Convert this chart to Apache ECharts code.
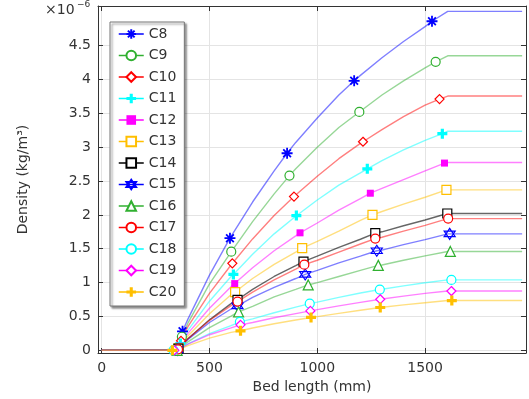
<!DOCTYPE html>
<html><head><meta charset="utf-8">
<script src="https://cdn.jsdelivr.net/npm/echarts@6/dist/echarts.min.js"></script>
<style>html,body{margin:0;padding:0;background:#fff}#c{width:529px;height:399px}</style>
</head><body><div id="c"></div>
<script>
// ---- data (density in units of 1e-6 kg/m^3) ----
const names = ['C8','C9','C10','C11','C12','C13','C14','C15','C16','C17','C18','C19','C20'];
const xGrid = [0, 348, 400, 500, 600, 700, 800, 900, 1000, 1100, 1200, 1300, 1400, 1500, 1605, 1950];
const C8  = [0,0,0.46,1.11,1.68,2.19,2.65,3.07,3.43,3.77,4.06,4.32,4.56,4.78,5.005,5.005];
const C9  = [0,0,0.40,0.98,1.45,1.90,2.31,2.68,3.00,3.29,3.54,3.77,3.98,4.17,4.35,4.35];
const C10 = [0,0,0.35,0.84,1.26,1.645,1.99,2.29,2.57,2.83,3.055,3.26,3.45,3.62,3.755,3.755];
const C11 = [0,0,0.295,0.725,1.09,1.42,1.72,1.98,2.22,2.44,2.62,2.80,2.96,3.10,3.235,3.235];
const C12 = [0,0,0.25,0.62,0.94,1.22,1.47,1.69,1.88,2.07,2.24,2.39,2.52,2.65,2.774,2.774];
const C13 = [0,0,0.21,0.54,0.82,1.06,1.27,1.45,1.61,1.76,1.92,2.05,2.16,2.26,2.37,2.37];
const C14 = [0,0,0.17,0.45,0.69,0.90,1.09,1.25,1.39,1.52,1.64,1.75,1.84,1.925,2.02,2.02];
const C15 = [0,0,0.16,0.41,0.61,0.78,0.93,1.06,1.18,1.29,1.39,1.48,1.56,1.635,1.72,1.72];
const C16 = [0,0,0.125,0.335,0.505,0.65,0.79,0.90,1.00,1.09,1.18,1.26,1.33,1.395,1.46,1.46];
const C17 = [0,0,0.17,0.44,0.66,0.86,1.04,1.20,1.33,1.45,1.57,1.67,1.76,1.845,1.945,1.945];
const C18 = [0,0,0.095,0.245,0.365,0.465,0.555,0.637,0.712,0.782,0.847,0.902,0.952,0.997,1.04,1.04];
const C19 = [0,0,0.09,0.23,0.33,0.41,0.48,0.542,0.60,0.656,0.708,0.757,0.80,0.84,0.875,0.875];
const C20 = [0,0,0.07,0.18,0.265,0.33,0.392,0.448,0.498,0.546,0.591,0.635,0.67,0.703,0.735,0.735];
const M8  = [[375,0.28],[595,1.656],[860,2.91],[1171,3.98],[1532,4.86]];
const M9  = [[372,0.20],[601,1.456],[871,2.58],[1195,3.52],[1549,4.26]];
const M10 = [[368,0.14],[606,1.284],[892,2.27],[1212,3.08],[1567,3.71]];
const M11 = [[365,0.10],[611,1.12],[903,1.99],[1232,2.68],[1580,3.20]];
const M12 = [[362,0.06],[617,0.985],[920,1.735],[1246,2.32],[1590,2.765]];
const M13 = [[357,0.03],[619,0.86],[930,1.51],[1256,2.00],[1599,2.37]];
const M14 = [[356,0.025],[630,0.746],[936,1.31],[1269,1.73],[1603,2.02]];
const M15 = [[351,0.005],[630,0.656],[944,1.12],[1276,1.47],[1614,1.72]];
const M16 = [[350,0],[635,0.567],[958,0.965],[1283,1.254],[1617,1.46]];
const M17 = [[354,0.015],[630,0.72],[940,1.265],[1269,1.65],[1607,1.945]];
const M18 = [[333,0],[641,0.42],[965,0.69],[1290,0.897],[1622,1.04]];
const M19 = [[337,0],[644,0.376],[968,0.582],[1292,0.754],[1622,0.875]];
const M20 = [[328,0],[644,0.288],[971,0.485],[1292,0.632],[1624,0.735]];
const xTicks = [0, 500, 1000, 1500];
const yTicks = [0, 0.5, 1, 1.5, 2, 2.5, 3, 3.5, 4, 4.5];

const values = [C8,C9,C10,C11,C12,C13,C14,C15,C16,C17,C18,C19,C20];
const marks = [M8,M9,M10,M11,M12,M13,M14,M15,M16,M17,M18,M19,M20];

// ---- styles ----
const BLUE='#0000ff', GREEN='#30b030', RED='#ff0000', CYAN='#00ffff', MAG='#ff00ff', ORG='#ffbf00', BLK='#000000';
const colors = [BLUE,GREEN,RED,CYAN,MAG,ORG,BLK,BLUE,GREEN,RED,CYAN,MAG,ORG];
const ASTER = 'path://M0,-10L0,10M-10,0L10,0M-7,-7L7,7M-7,7L7,-7';
const PLUS = 'path://M-1.6,-5H1.6V-1.6H5V1.6H1.6V5H-1.6V1.6H-5V-1.6H-1.6Z';
const HEX = 'path://M0,-10L8.66,5L-8.66,5ZM0,10L8.66,-5L-8.66,-5Z';
const DIAM = 'path://M0,-6L4.5,0L0,6L-4.5,0Z';
// [symbol, size, style]
const sym = [
  [ASTER, 11, 'stroke'], ['circle', 9, 'hollow'], [DIAM, 9, 'hollow'], [PLUS, 10, 'fill'],
  ['rect', 7, 'fill'], ['rect', 9, 'hollow'], ['rect', 9, 'hollow'], [HEX, 11, 'hollow'],
  ['triangle', 10, 'hollow'], ['circle', 9, 'hollow'], ['circle', 9, 'hollow'], [DIAM, 9, 'hollow'], [PLUS, 10, 'fill']
];
function hexToRgba(h, a){const n=parseInt(h.slice(1),16);return `rgba(${n>>16&255},${n>>8&255},${n&255},${a})`;}

function buildData(vals, mk){
  const pts = xGrid.map((x,i)=>({value:[x, vals[i]], symbol:'none'}));
  mk.forEach(m=>pts.push({value:[m[0], m[1]]}));
  pts.sort((a,b)=>a.value[0]-b.value[0]);
  return pts;
}

const FONT = 'DejaVu Sans';
const series = names.map((n,i)=>{
  const c = colors[i], s = sym[i];
  let itemStyle;
  if (s[2]==='stroke') itemStyle = {color:c, borderColor:c, borderWidth:1.8};
  else if (s[2]==='hollow') itemStyle = {color:'#ffffff', borderColor:c, borderWidth:1.2};
  else itemStyle = {color:c, borderWidth:0};
  return {
    name:n, type:'line', data: buildData(values[i], marks[i]),
    symbol:s[0], symbolSize:s[1], showSymbol:true, showAllSymbol:true,
    itemStyle, lineStyle:{color:hexToRgba(c, c===BLK?0.6:0.5), width:1.4},
    emphasis:{disabled:true}, animation:false, z: 2
  };
});

const fmt = v => String(v);
const axisCommon = {
  type:'value', axisLine:{show:true, onZero:false, lineStyle:{color:'#333', width:1}},
  axisTick:{show:true, inside:true, length:5, lineStyle:{color:'#333'}},
};
const chart = echarts.init(document.getElementById('c'), null, {renderer:'canvas'});
chart.setOption({
  animation:false,
  backgroundColor:'#ffffff',
  textStyle:{fontFamily:FONT},
  grid:{left:98, right:3, top:6, bottom:45},
  xAxis:[
    Object.assign({}, axisCommon, {position:'bottom', min:-17, max:1968,
      axisTick:Object.assign({}, axisCommon.axisTick, {customValues:xTicks}),
      axisLabel:{customValues:xTicks, formatter:fmt, fontSize:14, color:'#333', margin:8, fontFamily:FONT},
      splitLine:{show:true, lineStyle:{color:'#e4e4e4', width:1}},
      name:'Bed length (mm)', nameLocation:'middle', nameGap:27,
      nameTextStyle:{fontSize:14, color:'#333', fontFamily:FONT}}),
    Object.assign({}, axisCommon, {position:'top', min:-17, max:1968,
      axisTick:Object.assign({}, axisCommon.axisTick, {customValues:xTicks}),
      axisLabel:{show:false}, splitLine:{show:false}})
  ],
  yAxis:[
    Object.assign({}, axisCommon, {position:'left', min:-0.04, max:5.085,
      axisTick:Object.assign({}, axisCommon.axisTick, {customValues:yTicks}),
      axisLabel:{customValues:yTicks, formatter:fmt, fontSize:14, color:'#333', margin:7, fontFamily:FONT},
      splitLine:{show:true, lineStyle:{color:'#e4e4e4', width:1}},
      name:'Density (kg/m³)', nameLocation:'middle', nameGap:68, nameRotate:90,
      nameTextStyle:{fontSize:14, color:'#333', fontFamily:FONT}}),
    Object.assign({}, axisCommon, {position:'right', min:-0.04, max:5.085,
      axisTick:Object.assign({}, axisCommon.axisTick, {customValues:yTicks}),
      axisLabel:{show:false}, splitLine:{show:false}})
  ],
  legend:{
    orient:'vertical', left:110, top:22, padding:[5,8,7,8], itemGap:7.5,
    itemWidth:25, itemHeight:12,
    backgroundColor:'#ffffff', borderColor:'#777', borderWidth:1,
    shadowColor:'rgba(0,0,0,0.45)', shadowBlur:2, shadowOffsetX:2, shadowOffsetY:2,
    textStyle:{fontSize:14, color:'#333', fontFamily:FONT, lineHeight:14},
    data: names.map((n,i)=>({name:n, lineStyle:{color:colors[i], opacity:1, width:1.5}})),
    selectedMode:false
  },
  graphic:[
    {type:'text', left:45, top:3, style:{text:'×10', fontSize:14, fill:'#333', fontFamily:FONT}},
    {type:'text', left:77, top:0, style:{text:'−6', fontSize:9, fill:'#333', fontFamily:FONT}}
  ],
  series
});
</script></body></html>
